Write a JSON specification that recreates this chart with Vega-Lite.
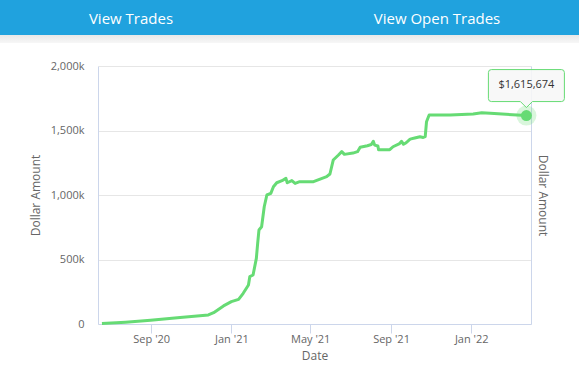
{
  "$schema": "https://vega.github.io/schema/vega-lite/v6.json",
  "padding": {"left": -22, "top": 0, "right": 0, "bottom": 4},
  "background": "white",
  "spacing": 17,
  "config": {"font": "Open Sans", "view": {"stroke": null}},
  "datasets": {
    "buttons": [{"button": "View Trades"}, {"button": "View Open Trades"}],
    "equity": [
      {"date": "2020-06-18", "value": 3000},
      {"date": "2020-07-24", "value": 14000},
      {"date": "2020-08-31", "value": 29000},
      {"date": "2020-10-15", "value": 50000},
      {"date": "2020-11-27", "value": 70000},
      {"date": "2020-12-05", "value": 88000},
      {"date": "2020-12-20", "value": 140000},
      {"date": "2021-01-01", "value": 173000},
      {"date": "2021-01-12", "value": 191000},
      {"date": "2021-01-19", "value": 238000},
      {"date": "2021-01-27", "value": 302000},
      {"date": "2021-01-29", "value": 367000},
      {"date": "2021-02-03", "value": 380000},
      {"date": "2021-02-08", "value": 509000},
      {"date": "2021-02-10", "value": 625000},
      {"date": "2021-02-12", "value": 729000},
      {"date": "2021-02-16", "value": 754000},
      {"date": "2021-02-20", "value": 909000},
      {"date": "2021-02-24", "value": 1000000},
      {"date": "2021-03-02", "value": 1013000},
      {"date": "2021-03-06", "value": 1064000},
      {"date": "2021-03-11", "value": 1095000},
      {"date": "2021-03-19", "value": 1111000},
      {"date": "2021-03-25", "value": 1129000},
      {"date": "2021-03-27", "value": 1095000},
      {"date": "2021-04-03", "value": 1112000},
      {"date": "2021-04-08", "value": 1090000},
      {"date": "2021-04-15", "value": 1103000},
      {"date": "2021-05-06", "value": 1103000},
      {"date": "2021-05-19", "value": 1129000},
      {"date": "2021-05-26", "value": 1142000},
      {"date": "2021-05-31", "value": 1163000},
      {"date": "2021-06-05", "value": 1271000},
      {"date": "2021-06-13", "value": 1310000},
      {"date": "2021-06-18", "value": 1336000},
      {"date": "2021-06-22", "value": 1315000},
      {"date": "2021-07-05", "value": 1325000},
      {"date": "2021-07-12", "value": 1336000},
      {"date": "2021-07-16", "value": 1370000},
      {"date": "2021-07-27", "value": 1382000},
      {"date": "2021-08-02", "value": 1391000},
      {"date": "2021-08-05", "value": 1416000},
      {"date": "2021-08-07", "value": 1387000},
      {"date": "2021-08-12", "value": 1380000},
      {"date": "2021-08-13", "value": 1351000},
      {"date": "2021-08-30", "value": 1351000},
      {"date": "2021-09-04", "value": 1374000},
      {"date": "2021-09-14", "value": 1399000},
      {"date": "2021-09-17", "value": 1416000},
      {"date": "2021-09-20", "value": 1393000},
      {"date": "2021-09-24", "value": 1405000},
      {"date": "2021-09-30", "value": 1433000},
      {"date": "2021-10-07", "value": 1442000},
      {"date": "2021-10-15", "value": 1452000},
      {"date": "2021-10-20", "value": 1446000},
      {"date": "2021-10-23", "value": 1452000},
      {"date": "2021-10-25", "value": 1568000},
      {"date": "2021-10-29", "value": 1620000},
      {"date": "2021-11-30", "value": 1620000},
      {"date": "2022-01-04", "value": 1628000},
      {"date": "2022-01-17", "value": 1638000},
      {"date": "2022-01-30", "value": 1633000},
      {"date": "2022-03-26", "value": 1615674}
    ],
    "last": [{"date": "2022-03-26", "value": 1615674}]
  },
  "vconcat": [
    {
      "width": 433,
      "height": 43,
      "data": {"name": "buttons"},
      "layer": [
        {
          "mark": {
            "type": "rect",
            "fill": {
              "gradient": "linear", "x1": 0, "y1": 0, "x2": 0, "y2": 1,
              "stops": [
                {"offset": 0, "color": "#20a2de"},
                {"offset": 0.812, "color": "#20a2de"},
                {"offset": 0.816, "color": "#e8e8e8"},
                {"offset": 1, "color": "#f7f7f7"}
              ]
            }
          },
          "encoding": {
            "x": {"field": "button", "type": "nominal", "sort": null, "axis": null,
                  "scale": {"range": [-120, 492], "paddingInner": 0, "paddingOuter": 0}}
          }
        },
        {
          "mark": {"type": "text", "color": "white", "fontSize": 15, "fontWeight": 500, "baseline": "middle", "dy": -3},
          "encoding": {
            "x": {"field": "button", "type": "nominal", "sort": null, "axis": null,
                  "scale": {"range": [-120, 492], "paddingInner": 0, "paddingOuter": 0}},
            "text": {"field": "button"}
          }
        }
      ]
    },
    {
      "width": 433,
      "height": 258,
      "layer": [
        {
          "data": {"name": "equity"},
          "mark": {"type": "line", "color": "#66db74", "strokeWidth": 3, "strokeJoin": "round"},
          "encoding": {
            "x": {
              "field": "date", "type": "temporal", "title": "Date",
              "scale": {"type": "utc", "domain": [{"year": 2020, "month": 6, "date": 12, "utc": true}, {"year": 2022, "month": 4, "date": 2, "utc": true}]},
              "axis": {
                "values": [
                  {"year": 2020, "month": 9, "date": 1, "utc": true},
                  {"year": 2021, "month": 1, "date": 1, "utc": true},
                  {"year": 2021, "month": 5, "date": 1, "utc": true},
                  {"year": 2021, "month": 9, "date": 1, "utc": true},
                  {"year": 2022, "month": 1, "date": 1, "utc": true}
                ],
                "labelExpr": "utcFormat(datum.value, \"%b '%y\")",
                "grid": false,
                "domainColor": "#ccd6eb",
                "tickColor": "#ccd6eb",
                "tickSize": 9,
                "labelPadding": 0,
                "labelFlush": false,
                "labelColor": "#666666",
                "labelFontSize": 11,
                "titleColor": "#666666",
                "titleFontSize": 12,
                "titleFontWeight": "normal",
                "titlePadding": 6
              }
            },
            "y": {
              "field": "value", "type": "quantitative", "title": "Dollar Amount",
              "scale": {"domain": [0, 2000000], "nice": false},
              "axis": {
                "values": [0, 500000, 1000000, 1500000, 2000000],
                "labelExpr": "datum.value == 0 ? '0' : format(datum.value / 1000, ',') + 'k'",
                "ticks": false,
                "tickSize": 0,
                "labelPadding": 14,
                "labelFlush": false,
                "grid": true,
                "gridColor": "#e6e6e6",
                "domain": true,
                "domainColor": "#ccd6eb",
                "labelColor": "#666666",
                "labelFontSize": 11,
                "titleColor": "#666666",
                "titleFontSize": 12,
                "titleFontWeight": "normal",
                "titlePadding": 8
              }
            }
          }
        },
        {
          "data": {"name": "last"},
          "mark": {"type": "point", "filled": true, "color": "#66db74", "opacity": 0.25, "size": 400},
          "encoding": {
            "x": {"field": "date", "type": "temporal", "scale": {"type": "utc"}},
            "y": {
              "field": "value", "type": "quantitative", "title": "Dollar Amount",
              "axis": {
                "orient": "right",
                "labels": false,
                "ticks": false,
                "grid": false,
                "domain": true,
                "domainColor": "#ccd6eb",
                "titleColor": "#666666",
                "titleFontSize": 12,
                "titleFontWeight": "normal",
                "titlePadding": 4
              }
            }
          }
        },
        {
          "data": {"name": "last"},
          "mark": {"type": "point", "filled": true, "color": "#66db74", "opacity": 1, "size": 121},
          "encoding": {
            "x": {"field": "date", "type": "temporal", "scale": {"type": "utc"}},
            "y": {"field": "value", "type": "quantitative", "axis": null}
          }
        },
        {
          "data": {"name": "last"},
          "mark": {
            "type": "point",
            "shape": "M-35,-46H35Q38,-46 38,-43V-17Q38,-14 35,-14H6L0,-8L-6,-14H-35Q-38,-14 -38,-17V-43Q-38,-46 -35,-46Z",
            "size": 4,
            "fill": "#f7f7f7",
            "fillOpacity": 0.88,
            "stroke": "#66db74",
            "strokeWidth": 1,
            "opacity": 1
          },
          "encoding": {
            "x": {"field": "date", "type": "temporal", "scale": {"type": "utc"}},
            "y": {"field": "value", "type": "quantitative", "axis": null}
          }
        },
        {
          "data": {"name": "last"},
          "mark": {"type": "text", "color": "#333333", "fontSize": 11, "baseline": "middle", "dy": -31},
          "encoding": {
            "x": {"field": "date", "type": "temporal", "scale": {"type": "utc"}},
            "y": {"field": "value", "type": "quantitative", "axis": null},
            "text": {"field": "value", "type": "quantitative", "format": "$,"}
          }
        }
      ],
      "resolve": {"axis": {"y": "independent"}}
    }
  ]
}
